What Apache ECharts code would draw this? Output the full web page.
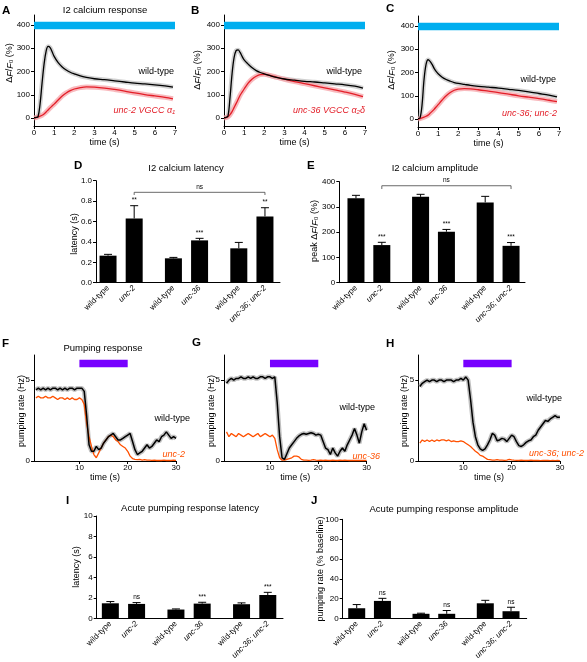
<!DOCTYPE html>
<html><head><meta charset="utf-8">
<script src="https://cdn.jsdelivr.net/npm/echarts@6/dist/echarts.min.js"></script>
<style>html,body{margin:0;padding:0;background:#fff}#c{width:587px;height:662px}</style>
</head><body><div id="c"></div>
<script>
// ================= DATA =================
// Calcium traces (A-C): time (s) and ΔF/F0 (%)
const caTime = [0,0.1,0.2,0.3,0.4,0.5,0.6,0.7,0.8,0.9,1.0,1.2,1.4,1.6,1.8,2.0,2.3,2.6,3.0,3.5,4.0,4.5,5.0,5.5,6.0,6.5,6.9];
const caA_wt   = [2,3,6,60,150,232,287,308,303,285,265,238,220,207,197,190,181,175,169,165,160,155,150,147,143,138,133];
const caA_unc2 = [0,2,5,8,12,18,26,35,44,52,60,78,95,108,118,125,131,134,133,129,123,116,108,101,95,89,83];
const caB_wt    = [2,3,10,90,190,260,290,293,282,265,250,232,216,204,196,190,182,175,168,163,158,155,151,147,143,137,129];
const caB_unc36 = [0,2,6,15,28,45,62,80,98,112,125,150,168,180,187,188,183,176,167,157,148,139,130,121,112,102,92];
const caC_wt  = [2,5,60,170,235,255,248,235,218,205,195,180,170,163,157,153,149,145,141,137,133,128,123,117,110,103,95];
const caC_dbl = [0,2,5,8,12,17,25,33,42,52,62,82,100,114,124,129,131,130,126,120,114,107,100,94,88,81,75];
const caStim = [0, 7];          // stimulus on/off (s)
const caStimBand = [382, 414];  // drawn at 400 %

// Pumping traces (F-H): time (s) and pumping rate (Hz)
const pumpTime = [1,1.5,2,2.5,3,3.5,4,4.5,5,5.5,6,6.5,7,7.5,8,8.5,9,9.5,10,10.5,11,
  11.5,12,12.5,13,13.5,14,14.5,15,15.5,16,16.5,17,17.5,18,18.5,19,19.5,20,20.5,21,
  21.5,22,22.5,23,23.5,24,24.5,25,25.5,26,26.5,27,27.5,28,28.5,29,29.5,30];
const pumpF_wt = [4.4,4.5,4.4,4.5,4.4,4.5,4.4,4.5,4.5,4.4,4.5,4.4,4.5,4.4,4.5,4.5,4.4,4.5,4.5,4.5,4.3,
  2.8,1.0,0.6,0.6,0.9,0.7,0.8,1.1,1.3,1.5,1.6,1.7,1.5,1.3,1.3,1.4,1.5,1.6,1.7,1.2,
  0.7,0.4,0.5,0.6,0.8,1.0,0.8,0.9,1.1,1.3,1.2,1.5,1.6,1.8,1.6,1.4,1.5,1.4];
const pumpF_unc2 = [3.9,4.0,3.9,3.9,4.0,3.9,3.9,4.0,3.9,3.8,3.9,3.9,3.8,3.9,3.8,3.9,3.8,3.8,3.9,3.8,3.5,
  2.3,1.5,0.9,0.4,0.2,0.5,0.8,1.1,1.3,1.5,1.6,1.5,1.3,1.2,1.0,0.9,0.8,0.6,0.3,0.15,
  0.1,0.08,0.1,0.06,0.08,0.05,0.06,0.04,0.05,0.03,0.04,0.03,0.05,0.03,0.04,0.03,0.05,0.04];
const pumpG_wt = [4.8,5.0,5.1,5.0,5.1,5.1,5.2,5.1,5.1,5.2,5.1,5.2,5.1,5.1,5.2,5.2,5.1,5.2,5.2,5.1,5.2,
  3.6,1.5,0.2,0.1,0.45,0.8,1.0,1.2,1.4,1.55,1.65,1.7,1.65,1.7,1.75,1.7,1.6,1.65,1.6,1.2,
  0.8,0.7,0.4,0.8,0.5,0.3,0.6,0.8,0.6,1.0,1.3,1.6,2.0,1.6,1.1,1.8,2.3,1.9];
const pumpG_unc36 = [1.8,1.5,1.7,1.6,1.5,1.7,1.6,1.5,1.6,1.7,1.6,1.5,1.6,1.7,1.5,1.6,1.7,1.6,1.5,1.6,1.4,
  0.7,0.2,0.05,0.05,0.1,0.15,0.2,0.3,0.3,0.25,0.1,0.05,0.06,0.04,0.05,0.08,0.05,0.04,0.05,0.03,
  0.05,0.04,0.03,0.05,0.04,0.03,0.05,0.04,0.06,0.04,0.03,0.04,0.03,0.04,0.03,0.04,0.03,0.04];
const pumpH_wt = [4.6,4.8,4.9,5.0,4.9,5.0,5.0,4.9,5.0,5.0,4.9,5.0,5.0,5.0,4.9,5.0,5.0,5.1,5.0,5.2,5.0,
  3.8,2.4,1.5,1.0,0.75,0.65,0.75,1.0,1.3,1.7,1.6,1.25,1.3,1.4,1.35,1.2,1.4,1.6,1.5,1.2,
  0.95,0.9,1.0,1.15,1.25,1.3,1.5,1.6,1.9,2.1,2.3,2.5,2.45,2.6,2.7,2.8,2.7,2.7];
const pumpH_dbl = [1.1,1.3,1.2,1.3,1.2,1.3,1.2,1.3,1.25,1.3,1.3,1.25,1.3,1.2,1.25,1.2,1.2,1.25,1.2,1.1,1.0,
  0.9,0.75,0.6,0.5,0.35,0.3,0.2,0.1,0.08,0.06,0.05,0.08,0.06,0.05,0.04,0.06,0.1,0.07,0.05,0.04,
  0.03,0.05,0.04,0.03,0.04,0.05,0.03,0.04,0.03,0.02,0.03,0.04,0.03,0.02,0.03,0.02,0.03,0.02];
const pumpStim = [10, 20];          // light on/off (s)
const pumpStimBand = [5.8, 6.25];   // drawn at ~6 Hz

// Bar charts (D, E, I, J)
const barCategories = ['wild-type', 'unc-2', 'wild-type', 'unc-36', 'wild-type', 'unc-36; unc-2'];
const barIsMutant = [false, true, false, true, false, true];
const caLatencyMean = [0.265, 0.63, 0.239, 0.415, 0.337, 0.65];
const caLatencySem  = [0.013, 0.125, 0.009, 0.02, 0.058, 0.085];
const caLatencySig  = ['', '**', '', '***', '', '**'];
const caAmpMean = [334, 149, 340, 202, 318, 146];
const caAmpSem  = [12, 11, 10, 9, 24, 13];
const caAmpSig  = ['', '***', '', '***', '', '***'];
const pumpLatencyMean = [1.48, 1.42, 0.87, 1.45, 1.39, 2.29];
const pumpLatencySem  = [0.17, 0.13, 0.06, 0.13, 0.13, 0.26];
const pumpLatencySig  = ['', 'ns', '', '***', '', '***'];
const pumpAmpMean = [10.3, 17.7, 4.7, 4.7, 15.3, 7.3];
const pumpAmpSem  = [3.7, 2.6, 0.6, 3.3, 3.0, 4.0];
const pumpAmpSig  = ['', 'ns', '', 'ns', '', 'ns'];
const caLatencyBracket = [0.886, 0.86];  // unc-2 vs unc-36; unc-2 : ns
const caAmpBracket = [384, 371];

// ================= CHART =================
const FONT = '"Liberation Sans", Arial, Helvetica, sans-serif';
const RED = '#E31E28', ORANGE = '#FF5000', PURPLE = '#7700FF', BLUE = '#00AEEF';
const chart = echarts.init(document.getElementById('c'), null, {renderer: 'canvas'});

const grids = [], xAxes = [], yAxes = [], series = [], graphics = [];
const lbl = {fontSize: 8, color: '#000', fontFamily: FONT};
const axLine = {show: true, onZero: false, lineStyle: {color: '#000', width: 1}};
const zip = (xs, ys) => xs.map((x, i) => [x, ys[i]]);

function txt(x, y, text, o = {}) {
  const st = {text, fontSize: o.size || 9, fontFamily: FONT, fontWeight: o.bold ? 'bold' : 'normal',
    fontStyle: o.italic ? 'italic' : 'normal', fill: o.color || '#000',
    align: o.align || 'center', verticalAlign: 'middle'};
  if (o.rich) st.rich = o.rich;
  return {type: 'text', x, y, rotation: o.rot || 0, silent: true, z: 100, style: st};
}
const dffRich = {
  n: {fontSize: 9, fontFamily: FONT, fill: '#000'},
  i: {fontSize: 9, fontFamily: FONT, fontStyle: 'italic', fill: '#000'}
};
const dffText = '{n|Δ}{i|F}{n|/}{i|F}{n|₀ (%)}';

// ---- Calcium panels ----
function addCalcium(left, top, wt, mut) {
  const g = grids.length;
  grids.push({left, top, width: 141, height: 111});
  xAxes.push({type: 'value', gridIndex: g, min: 0, max: 7, interval: 1,
    name: 'time (s)', nameLocation: 'middle', nameGap: 12,
    nameTextStyle: {fontSize: 9, color: '#000', fontFamily: FONT},
    axisLine: axLine, axisTick: {show: true, length: 3, lineStyle: {color: '#000'}},
    axisLabel: Object.assign({margin: 3}, lbl), splitLine: {show: false}});
  const ticks = [0, 100, 200, 300, 400];
  yAxes.push({type: 'value', gridIndex: g, min: -34, max: 443,
    axisLine: axLine, axisTick: {show: true, length: 3, customValues: ticks, lineStyle: {color: '#000'}},
    axisLabel: Object.assign({margin: 4, customValues: ticks}, lbl), splitLine: {show: false}});
  const base = {type: 'line', xAxisIndex: g, yAxisIndex: g, showSymbol: false, smooth: 0.35, silent: true};
  series.push(Object.assign({}, base, {data: zip(caTime, wt), lineStyle: {color: '#9a9a9a', width: 4.5, opacity: 0.45}, z: 1}));
  series.push(Object.assign({}, base, {data: zip(caTime, mut), lineStyle: {color: '#F5A3A8', width: 5, opacity: 0.75}, z: 1}));
  series.push(Object.assign({}, base, {data: zip(caTime, mut), lineStyle: {color: RED, width: 1.3}, z: 3}));
  series.push(Object.assign({}, base, {data: zip(caTime, wt), lineStyle: {color: '#000', width: 1.3}, z: 4,
    markArea: {silent: true, itemStyle: {color: BLUE},
      data: [[{xAxis: caStim[0], yAxis: caStimBand[0]}, {xAxis: caStim[1], yAxis: caStimBand[1]}]]}}));
}
addCalcium(34, 15, caA_wt, caA_unc2);
addCalcium(224, 15, caB_wt, caB_unc36);
addCalcium(418, 16, caC_wt, caC_dbl);

// ---- Bar panels ----
const slotOf = i => Math.floor(i / 2) * 5 + (i % 2) * 2;
const slots = barCategories.map((_, i) => slotOf(i));

function errRender(sig) {
  return function (params, api) {
    const x = api.value(0), m = api.value(1), t = api.value(2);
    const p0 = api.coord([x, m]), p1 = api.coord([x, t]);
    const ch = [
      {type: 'line', shape: {x1: p0[0], y1: p0[1], x2: p1[0], y2: p1[1]}, style: {stroke: '#000', lineWidth: 1}},
      {type: 'line', shape: {x1: p1[0] - 4, y1: p1[1], x2: p1[0] + 4, y2: p1[1]}, style: {stroke: '#000', lineWidth: 1}}
    ];
    const s = sig[params.dataIndex];
    if (s) ch.push({type: 'text', x: p1[0], y: p1[1] - 2,
      style: {text: s, fontSize: 6.5, fontFamily: FONT, fill: '#000', align: 'center', verticalAlign: 'bottom'}});
    return {type: 'group', children: ch};
  };
}
function bracketRender(params, api) {
  const x1 = api.value(0), x2 = api.value(1), y = api.value(2), yl = api.value(3);
  const a = api.coord([x1, yl]), b = api.coord([x1, y]), c = api.coord([x2, y]), d = api.coord([x2, yl]);
  return {type: 'group', children: [
    {type: 'polyline', shape: {points: [a, b, c, d]}, style: {stroke: '#444', lineWidth: 0.8, fill: null}},
    {type: 'text', x: (b[0] + c[0]) / 2, y: b[1] - 2,
      style: {text: 'ns', fontSize: 6.5, fontFamily: FONT, fill: '#000', align: 'center', verticalAlign: 'bottom'}}
  ]};
}

function addBars(box, xr, yr, yInterval, yFmt, mean, sem, sig, bracket) {
  const g = grids.length;
  grids.push(box);
  xAxes.push({type: 'value', gridIndex: g, min: xr[0], max: xr[1],
    axisLine: axLine, axisTick: {show: false}, splitLine: {show: false},
    axisLabel: Object.assign({}, lbl, {margin: 4, rotate: 45, customValues: slots,
      formatter: v => { const i = slots.indexOf(v); if (i < 0) return '';
        return barIsMutant[i] ? '{i|' + barCategories[i] + '}' : barCategories[i]; },
      rich: {i: {fontSize: 8, fontStyle: 'italic', fontFamily: FONT, color: '#000'}}})});
  yAxes.push({type: 'value', gridIndex: g, min: yr[0], max: yr[1], interval: yInterval,
    axisLine: axLine, axisTick: {show: true, length: 3, lineStyle: {color: '#000'}},
    axisLabel: Object.assign({margin: 4, formatter: yFmt}, lbl), splitLine: {show: false}});
  series.push({type: 'bar', xAxisIndex: g, yAxisIndex: g, barWidth: 17, silent: true,
    itemStyle: {color: '#000'}, data: mean.map((m, i) => [slots[i], m])});
  series.push({type: 'custom', xAxisIndex: g, yAxisIndex: g, silent: true, z: 5,
    renderItem: errRender(sig), encode: {x: 0, y: [1, 2]},
    data: mean.map((m, i) => [slots[i], m, m + sem[i]])});
  if (bracket) series.push({type: 'custom', xAxisIndex: g, yAxisIndex: g, silent: true, z: 5,
    renderItem: bracketRender, encode: {x: [0, 1], y: [2, 3]},
    data: [[slots[1], slots[5], bracket[0], bracket[1]]]});
}
addBars({left: 96, top: 180.7, width: 184, height: 102}, [-0.92, 13.15], [0, 1], 0.2, v => v.toFixed(1),
  caLatencyMean, caLatencySem, caLatencySig, caLatencyBracket);
addBars({left: 339.3, top: 181.7, width: 185.7, height: 101}, [-1.29, 13.08], [0, 400], 100, v => v,
  caAmpMean, caAmpSem, caAmpSig, caAmpBracket);

// ---- Pumping panels ----
function addPump(left, xmin, wt, mut) {
  const g = grids.length;
  grids.push({left, top: 355, width: (30 - xmin) * 4.83, height: 106});
  xAxes.push({type: 'value', gridIndex: g, min: xmin, max: 30,
    name: 'time (s)', nameLocation: 'middle', nameGap: 10,
    nameTextStyle: {fontSize: 9, color: '#000', fontFamily: FONT},
    axisLine: axLine, axisTick: {show: true, length: 3, customValues: [10, 20, 30], lineStyle: {color: '#000'}},
    axisLabel: Object.assign({margin: 3, customValues: [10, 20, 30]}, lbl), splitLine: {show: false}});
  yAxes.push({type: 'value', gridIndex: g, min: 0, max: 6.55,
    axisLine: axLine, axisTick: {show: true, length: 3, customValues: [0, 5], lineStyle: {color: '#000'}},
    axisLabel: Object.assign({margin: 4, customValues: [0, 5]}, lbl), splitLine: {show: false}});
  const base = {type: 'line', xAxisIndex: g, yAxisIndex: g, showSymbol: false, silent: true};
  series.push(Object.assign({}, base, {data: zip(pumpTime, wt), lineStyle: {color: '#8a8a8a', width: 4.5, opacity: 0.55}, z: 1}));
  series.push(Object.assign({}, base, {data: zip(pumpTime, mut), lineStyle: {color: ORANGE, width: 1.3}, z: 2}));
  series.push(Object.assign({}, base, {data: zip(pumpTime, wt), lineStyle: {color: '#000', width: 1.5}, z: 3,
    markArea: {silent: true, itemStyle: {color: PURPLE},
      data: [[{xAxis: pumpStim[0], yAxis: pumpStimBand[0]}, {xAxis: pumpStim[1], yAxis: pumpStimBand[1]}]]}}));
}
addPump(34, 0.6, pumpF_wt, pumpF_unc2);
addPump(224, 0.48, pumpG_wt, pumpG_unc36);
addPump(418.3, 0.68, pumpH_wt, pumpH_dbl);

addBars({left: 96.7, top: 516, width: 186.3, height: 103.3}, [-1.04, 13.16], [0, 10], 2, v => v,
  pumpLatencyMean, pumpLatencySem, pumpLatencySig, null);
addBars({left: 342.7, top: 519.3, width: 184, height: 100}, [-1.09, 13.22], [0, 100], 20, v => v,
  pumpAmpMean, pumpAmpSem, pumpAmpSig, null);

// ---- Text annotations ----
const L = (x, y, t) => txt(x, y, t, {bold: true, size: 11.5, align: 'left'});
graphics.push(L(2, 11, 'A'), L(191, 11, 'B'), L(386, 9, 'C'), L(74, 166, 'D'), L(307, 166, 'E'),
  L(2, 344, 'F'), L(192, 343, 'G'), L(386, 344, 'H'), L(66, 501, 'I'), L(311, 501, 'J'));
graphics.push(txt(105, 10, 'I2 calcium response', {size: 9.5}),
  txt(186, 168, 'I2 calcium latency', {size: 9.5}),
  txt(435, 168, 'I2 calcium amplitude', {size: 9.5}),
  txt(103, 348, 'Pumping response', {size: 9.5}),
  txt(190, 508, 'Acute pumping response latency', {size: 9.5}),
  txt(444, 509, 'Acute pumping response amplitude', {size: 9.5}));
// y-axis names
const R = -Math.PI / 2;
graphics.push(
  txt(10, 63, dffText, {rot: -R, rich: dffRich}),
  txt(198, 70, dffText, {rot: -R, rich: dffRich}),
  txt(392, 70, dffText, {rot: -R, rich: dffRich}),
  txt(75, 234, 'latency (s)', {rot: -R}),
  txt(315, 231, '{n|peak Δ}{i|F}{n|/}{i|F}{n|₀ (%)}', {rot: -R, rich: dffRich}),
  txt(22, 411, 'pumping rate (Hz)', {rot: -R}),
  txt(212, 411, 'pumping rate (Hz)', {rot: -R}),
  txt(405, 411, 'pumping rate (Hz)', {rot: -R}),
  txt(77, 567, 'latency (s)', {rot: -R}),
  txt(321, 569, 'pumping rate (% baseline)', {rot: -R}));
// trace labels
graphics.push(
  txt(174, 72, 'wild-type', {align: 'right'}),
  txt(175, 110, 'unc-2 VGCC α₁', {align: 'right', italic: true, color: RED}),
  txt(362, 72, 'wild-type', {align: 'right'}),
  txt(365, 110, 'unc-36 VGCC α₂δ', {align: 'right', italic: true, color: RED}),
  txt(556, 80, 'wild-type', {align: 'right'}),
  txt(557, 113, 'unc-36; unc-2', {align: 'right', italic: true, color: RED}),
  txt(190, 419, 'wild-type', {align: 'right'}),
  txt(185, 454, 'unc-2', {align: 'right', italic: true, color: ORANGE}),
  txt(375, 408, 'wild-type', {align: 'right'}),
  txt(380, 456, 'unc-36', {align: 'right', italic: true, color: ORANGE}),
  txt(562, 399, 'wild-type', {align: 'right'}),
  txt(584, 453, 'unc-36; unc-2', {align: 'right', italic: true, color: ORANGE}));

chart.setOption({
  animation: false,
  backgroundColor: '#fff',
  textStyle: {fontFamily: FONT},
  grid: grids, xAxis: xAxes, yAxis: yAxes, series: series, graphic: graphics
});
</script></body></html>
